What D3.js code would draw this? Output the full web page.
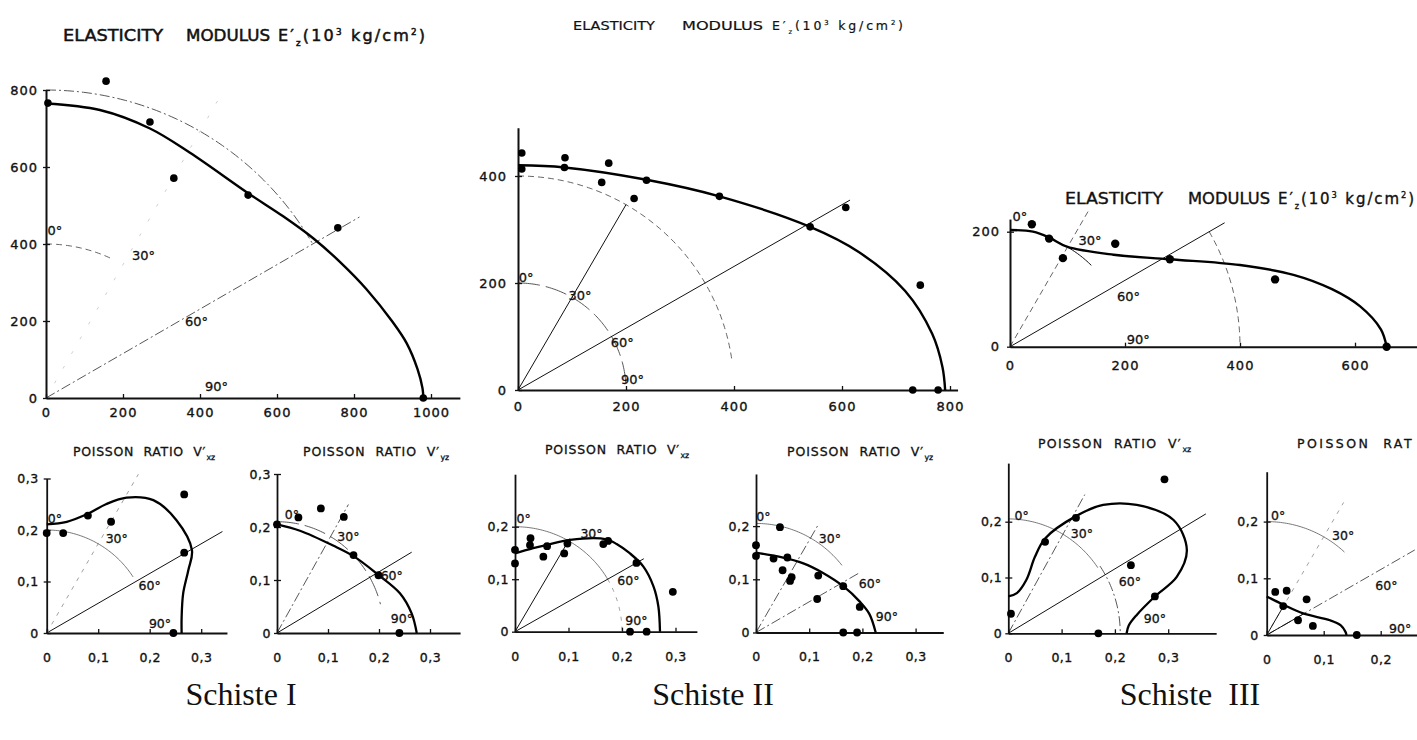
<!DOCTYPE html>
<html><head><meta charset="utf-8">
<script src="https://cdn.jsdelivr.net/npm/d3@7"></script>
<style>body{margin:0;background:#fff}svg{display:block}</style>
</head><body>
<script>
// ================= DATA =================
const angleNames = ['0°', '30°', '60°', '90°'];

// Schiste I — elasticity modulus E'z (10^3 kg/cm2)
const s1E_xTicks = [0, 200, 400, 600, 800, 1000];
const s1E_yTicks = [0, 200, 400, 600, 800];
const s1E_points = [[5,766],[156,823],[270,717],[332,571],[525,527],[758,442],[980,0]];
const s1E_curve  = [[0,765],[140,748],[270,700],[374,637],[525,532],[616,472],[694,415],[764,353],[833,282],[900,198],[937,142],[965,75],[978,25],[980,0]];
const s1E_rays   = [[30,900],[60,940]];
const s1E_arcs   = [[800,0,60],[400,0,25]];
const s1E_labels = [[23,436],[253,371],[391,198],[443,29]];

// Schiste II — elasticity modulus
const s2E_xTicks = [0, 200, 400, 600, 800];
const s2E_yTicks = [0, 200, 400];
const s2E_points = [[7,443],[7,413],[87,434],[86,416],[168,424],[155,388],[238,392],[215,358],[373,362],[541,305],[607,341],[745,196],[731,0],[778,0]];
const s2E_curve  = [[0,420],[86,416],[238,393],[373,362],[541,305],[631,258],[717,185],[767,105],[786,43],[791,0]];
const s2E_rays   = [[30,400],[60,710]];
const s2E_arcs   = [[200,0,88],[400,0,82]];
const s2E_labels = [[15,211],[115,177],[193,88],[212,19]];

// Schiste III — elasticity modulus
const s3E_xTicks = [0, 200, 400, 600];
const s3E_yTicks = [0, 200];
const s3E_points = [[38,213],[68,188],[92,154],[183,179],[278,152],[461,117],[655,0]];
const s3E_curve  = [[0,203],[40,200],[68,190],[99,174],[180,160],[278,152],[400,142],[493,125],[560,100],[609,70],[645,30],[655,0]];
const s3E_rays   = [[30,278],[60,431]];
const s3E_arcs   = [[400,60,90],[200,25,45]];
const s3E_labels = [[17,226],[139,185],[206,87],[223,12]];

// Schiste I — Poisson ratio v'xz
const s1Vxz_xTicks = [0, 0.1, 0.2, 0.3];
const s1Vxz_yTicks = [0, 0.1, 0.2, 0.3];
const s1Vxz_points = [[0,0.194],[0.032,0.194],[0.08,0.228],[0.125,0.216],[0.267,0.269],[0.267,0.156],[0.246,0]];
const s1Vxz_curve  = [[0,0.211],[0.039,0.216],[0.081,0.232],[0.115,0.25],[0.155,0.263],[0.207,0.258],[0.252,0.219],[0.282,0.161],[0.275,0.122],[0.265,0.077],[0.262,0.03],[0.262,0]];
const s1Vxz_rays   = [[30,0.356],[60,0.394]];
const s1Vxz_arcs   = [[0.2,0,57]];
const s1Vxz_labels = [[0.016,0.223],[0.136,0.184],[0.2,0.093],[0.22,0.019]];

// Schiste I — Poisson ratio v'yz
const s1Vyz_xTicks = [0, 0.1, 0.2, 0.3];
const s1Vyz_yTicks = [0, 0.1, 0.2, 0.3];
const s1Vyz_points = [[0,0.205],[0.042,0.218],[0.086,0.235],[0.131,0.219],[0.15,0.147],[0.199,0.109],[0.24,0]];
const s1Vyz_curve  = [[0,0.205],[0.045,0.193],[0.11,0.165],[0.15,0.145],[0.197,0.111],[0.241,0.075],[0.264,0.037],[0.274,0]];
const s1Vyz_rays   = [[30,0.28],[60,0.305]];
const s1Vyz_arcs   = [[0.21,0,75]];
const s1Vyz_labels = [[0.029,0.223],[0.14,0.182],[0.225,0.109],[0.245,0.028]];

// Schiste II — Poisson ratio v'xz
const s2Vxz_xTicks = [0, 0.1, 0.2, 0.3];
const s2Vxz_yTicks = [0, 0.1, 0.2];
const s2Vxz_points = [[0,0.156],[0,0.13],[0.029,0.178],[0.028,0.165],[0.06,0.163],[0.053,0.143],[0.098,0.168],[0.092,0.149],[0.165,0.167],[0.174,0.173],[0.227,0.131],[0.295,0.076],[0.215,0],[0.246,0]];
const s2Vxz_curve  = [[0,0.149],[0.034,0.159],[0.059,0.165],[0.103,0.175],[0.171,0.176],[0.19,0.167],[0.215,0.149],[0.24,0.124],[0.259,0.086],[0.268,0.048],[0.271,0]];
const s2Vxz_rays   = [[30,0.205],[60,0.278]];
const s2Vxz_arcs   = [[0.2,0,60],[0.2,60,90]];
const s2Vxz_labels = [[0.016,0.216],[0.143,0.187],[0.212,0.098],[0.227,0.022]];

// Schiste II — Poisson ratio v'yz
const s2Vyz_xTicks = [0, 0.1, 0.2, 0.3];
const s2Vyz_yTicks = [0, 0.1, 0.2];
const s2Vyz_points = [[0,0.164],[0,0.144],[0.045,0.198],[0.033,0.139],[0.059,0.141],[0.05,0.117],[0.067,0.104],[0.064,0.097],[0.117,0.107],[0.115,0.063],[0.164,0.087],[0.195,0.048],[0.164,0],[0.19,0]];
const s2Vyz_curve  = [[0,0.15],[0.045,0.142],[0.089,0.13],[0.126,0.112],[0.164,0.087],[0.195,0.058],[0.213,0.035],[0.225,0]];
const s2Vyz_rays   = [[30,0.234],[60,0.223]];
const s2Vyz_arcs   = [[0.205,0,52]];
const s2Vyz_labels = [[0.014,0.218],[0.139,0.177],[0.214,0.092],[0.246,0.03]];

// Schiste III — Poisson ratio v'xz
const s3Vxz_xTicks = [0, 0.1, 0.2, 0.3];
const s3Vxz_yTicks = [0, 0.1, 0.2];
const s3Vxz_points = [[0.005,0.035],[0.069,0.164],[0.127,0.207],[0.23,0.122],[0.275,0.066],[0.293,0.276],[0.169,0]];
const s3Vxz_curve  = [[0,0.066],[0.016,0.072],[0.034,0.096],[0.05,0.137],[0.069,0.17],[0.127,0.21],[0.178,0.23],[0.241,0.23],[0.31,0.203],[0.335,0.149],[0.316,0.101],[0.275,0.066],[0.241,0.033],[0.226,0.014],[0.222,0]];
const s3Vxz_rays   = [[30,0.287],[60,0.428]];
const s3Vxz_arcs   = [[0.205,0,55],[0.21,55,90]];
const s3Vxz_labels = [[0.025,0.212],[0.138,0.179],[0.228,0.092],[0.275,0.027]];

// Schiste III — Poisson ratio v'yz
const s3Vyz_xTicks = [0, 0.1, 0.2];
const s3Vyz_yTicks = [0, 0.1, 0.2];
const s3Vyz_points = [[0.015,0.076],[0.035,0.078],[0.029,0.051],[0.07,0.063],[0.055,0.026],[0.081,0.016],[0.158,0]];
const s3Vyz_curve  = [[0,0.068],[0.03,0.053],[0.064,0.038],[0.111,0.026],[0.13,0.017],[0.138,0.006],[0.14,0]];
const s3Vyz_rays   = [[30,0.27],[60,0.3],[30,0.061],[60,0.074]];
const s3Vyz_arcs   = [[0.2,0,43]];
const s3Vyz_labels = [[0.02,0.21],[0.134,0.176],[0.21,0.088],[0.234,0.012]];

const sampleNames = ['Schiste I', 'Schiste II', 'Schiste  III'];

// ================= STYLES / LAYOUT =================
const ST = {
  solid:   {stroke:'#111', w:1.0, dash:null},
  faintS:  {stroke:'#555', w:0.8, dash:null},
  dashdot: {stroke:'#444', w:0.9, dash:'10,3,2,3'},
  dash:    {stroke:'#555', w:0.9, dash:'6,4'},
  longdash:{stroke:'#444', w:0.9, dash:'22,6'},
  faintD:  {stroke:'#888', w:0.8, dash:'4,6'},
  ghost:   {stroke:'#c4c4c4', w:0.8, dash:'3,14'}
};
const fmtE = d3.format('d');
const fmtV = d => d === 0 ? '0' : d3.format('.1f')(d).replace('.', ',');

const svg = d3.select('body').append('svg').attr('width', 1417).attr('height', 740)
  .style('font-family', '"DejaVu Sans", sans-serif');

function drawPanel(p) {
  const x = d3.scaleLinear().domain([0, p.xMax]).range([p.ox, p.ox + p.xMax * p.kx]);
  const y = d3.scaleLinear().domain([0, p.yMax]).range([p.oy, p.oy - p.yMax * p.ky]);
  const g = svg.append('g');
  const line = d3.line().x(d => x(d[0])).y(d => y(d[1]));
  const apply = (sel, s) => sel.attr('fill', 'none').attr('stroke', s.stroke).attr('stroke-width', s.w)
    .attr('stroke-dasharray', s.dash);

  p.arcs.forEach((a, i) => {
    const [r, a0, a1] = a;
    const pts = d3.range(a0, a1 + 0.01, 1).map(t => [r * Math.sin(t * Math.PI / 180), r * Math.cos(t * Math.PI / 180)]);
    apply(g.append('path').attr('d', line(pts)), p.arcStyles[i]);
  });
  p.rays.forEach((rr, i) => {
    const [ang, len] = rr;
    const t = ang * Math.PI / 180;
    apply(g.append('path').attr('d', line([[0, 0], [len * Math.sin(t), len * Math.cos(t)]])), p.rayStyles[i]);
  });

  const xa = d3.axisBottom(x).tickValues(p.xTicks).tickFormat(p.fmt).tickSizeOuter(0).tickSizeInner(0).tickPadding(p.xPad);
  const ya = d3.axisLeft(y).tickValues(p.yTicks).tickFormat(p.fmt).tickSizeOuter(0).tickSizeInner(0).tickPadding(p.yPad);
  const gx = g.append('g').attr('transform', `translate(0,${p.oy})`).call(xa);
  const gy = g.append('g').attr('transform', `translate(${p.ox},0)`).call(ya);
  [gx, gy].forEach(ax => {
    ax.select('.domain').attr('stroke', '#111').attr('stroke-width', p.axisW);
    ax.selectAll('text').attr('font-size', p.fs).attr('fill', '#111')
      .attr('font-family', '"DejaVu Sans", sans-serif').attr('stroke', '#111').attr('stroke-width', 0.35)
      .attr('letter-spacing', p.ls);
  });
  gx.selectAll('.tick line').attr('y1', -4).attr('y2', 0).attr('stroke', '#111').attr('stroke-width', 1.3);
  gy.selectAll('.tick line').attr('x1', -3).attr('x2', 4).attr('stroke', '#111').attr('stroke-width', 1.3);

  g.append('path').attr('d', line.curve(d3.curveCatmullRom.alpha(0.5))(p.curve))
    .attr('fill', 'none').attr('stroke', '#000').attr('stroke-width', p.curveW).attr('stroke-linejoin', 'round');

  g.selectAll('circle.pt').data(p.points).join('circle').attr('class', 'pt')
    .attr('cx', d => x(d[0])).attr('cy', d => y(d[1])).attr('r', p.r).attr('fill', '#000');

  g.selectAll('text.ang').data(p.labels).join('text').attr('class', 'ang')
    .attr('x', d => x(d[0])).attr('y', d => y(d[1])).attr('text-anchor', 'middle')
    .attr('dominant-baseline', 'central').attr('font-size', p.angFs).attr('fill', '#111')
    .attr('stroke', '#111').attr('stroke-width', 0.3)
    .text((d, i) => angleNames[i]);
}

function fitText(g, x0, x1, yb, txt) {
  return g.append('text').attr('x', x0).attr('y', yb).attr('textLength', x1 - x0)
    .attr('lengthAdjust', 'spacingAndGlyphs').text(txt);
}
function eTitle(b, yb, fs, sw) {
  const g = svg.append('g').attr('fill', '#111').attr('stroke', '#111').attr('stroke-width', sw).attr('font-size', fs);
  fitText(g, b[0], b[1], yb, 'ELASTICITY');
  fitText(g, b[2], b[3], yb, 'MODULUS');
  const t = g.append('text').attr('x', b[4]).attr('y', yb).attr('textLength', b[5] - b[4]).attr('lengthAdjust', 'spacing');
  t.append('tspan').text('E′');
  t.append('tspan').attr('font-size', fs * 0.55).attr('dy', fs * 0.3).text('z');
  t.append('tspan').attr('dy', -fs * 0.3).text('(10');
  t.append('tspan').attr('font-size', fs * 0.55).attr('dy', -fs * 0.4).text('3');
  t.append('tspan').attr('dy', fs * 0.4).text(' kg/cm');
  t.append('tspan').attr('font-size', fs * 0.55).attr('dy', -fs * 0.4).text('2');
  t.append('tspan').attr('dy', fs * 0.4).text(')');
}
// Poisson titles: x0 = start, xEnd = end of "V′" (or of the cut word), sub = subscript or null
function vTitle(x0, xEnd, yb, sub, fs) {
  const g = svg.append('g').attr('fill', '#111').attr('stroke', '#111').attr('stroke-width', 0.3).attr('font-size', fs);
  const main = sub === null ? 'POISSON  RAT' : 'POISSON  RATIO  V′';
  const t = g.append('text').attr('x', x0).attr('y', yb).style('white-space', 'pre').text(main);
  const nat = t.node().getComputedTextLength();
  t.attr('letter-spacing', (xEnd - x0 - nat) / main.length);
  if (sub !== null) {
    const bb = t.node().getBBox();
    g.append('text').attr('x', bb.x + bb.width + 0.5).attr('y', yb + fs * 0.35)
      .attr('font-size', fs * 0.62).text(sub);
  }
}

const bigE = {fmt: fmtE, axisW: 2, fs: 13, ls: 1, angFs: 13, curveW: 2.4};
const smallV = {fmt: fmtV, axisW: 1.8, fs: 12.5, ls: 0.5, angFs: 12.5, curveW: 2.3, r: 3.9, xPad: 20};

drawPanel(Object.assign({}, bigE, {ox: 46, oy: 398, kx: 0.385, ky: 0.385, xMax: 1075, yMax: 800, xPad: 10, yPad: 8, r: 3.8,
  xTicks: s1E_xTicks, yTicks: s1E_yTicks, points: s1E_points, curve: s1E_curve, rays: s1E_rays, arcs: s1E_arcs, labels: s1E_labels,
  rayStyles: [ST.ghost, ST.dashdot], arcStyles: [ST.dashdot, ST.dash]}));
drawPanel(Object.assign({}, bigE, {ox: 518, oy: 390, kx: 0.54, ky: 0.535, xMax: 814, yMax: 490, xPad: 12, yPad: 11, r: 3.8,
  xTicks: s2E_xTicks, yTicks: s2E_yTicks, points: s2E_points, curve: s2E_curve, rays: s2E_rays, arcs: s2E_arcs, labels: s2E_labels,
  rayStyles: [ST.solid, ST.solid], arcStyles: [ST.longdash, ST.dash]}));
drawPanel(Object.assign({}, bigE, {ox: 1010, oy: 346.7, kx: 0.575, ky: 0.575, xMax: 710, yMax: 222, xPad: 14, yPad: 10, r: 4.2,
  xTicks: s3E_xTicks, yTicks: s3E_yTicks, points: s3E_points, curve: s3E_curve, rays: s3E_rays, arcs: s3E_arcs, labels: s3E_labels,
  rayStyles: [ST.dash, ST.solid], arcStyles: [ST.dash, ST.solid]}));

drawPanel(Object.assign({}, smallV, {ox: 46.7, oy: 633, kx: 515, ky: 515, xMax: 0.35, yMax: 0.3, yPad: 8,
  xTicks: s1Vxz_xTicks, yTicks: s1Vxz_yTicks, points: s1Vxz_points, curve: s1Vxz_curve, rays: s1Vxz_rays, arcs: s1Vxz_arcs, labels: s1Vxz_labels,
  rayStyles: [ST.faintD, ST.solid], arcStyles: [ST.faintS]}));
drawPanel(Object.assign({}, smallV, {ox: 277, oy: 633, kx: 510, ky: 530, xMax: 0.359, yMax: 0.3, yPad: 6,
  xTicks: s1Vyz_xTicks, yTicks: s1Vyz_yTicks, points: s1Vyz_points, curve: s1Vyz_curve, rays: s1Vyz_rays, arcs: s1Vyz_arcs, labels: s1Vyz_labels,
  rayStyles: [ST.dashdot, ST.solid], arcStyles: [ST.longdash]}));
drawPanel(Object.assign({}, smallV, {ox: 515, oy: 631.7, kx: 535, ky: 525, xMax: 0.34, yMax: 0.3, yPad: 6,
  xTicks: s2Vxz_xTicks, yTicks: s2Vxz_yTicks, points: s2Vxz_points, curve: s2Vxz_curve, rays: s2Vxz_rays, arcs: s2Vxz_arcs, labels: s2Vxz_labels,
  rayStyles: [ST.solid, ST.solid], arcStyles: [ST.faintS, ST.faintD]}));
drawPanel(Object.assign({}, smallV, {ox: 756, oy: 632.5, kx: 532, ky: 532, xMax: 0.352, yMax: 0.298, yPad: 6,
  xTicks: s2Vyz_xTicks, yTicks: s2Vyz_yTicks, points: s2Vyz_points, curve: s2Vyz_curve, rays: s2Vyz_rays, arcs: s2Vyz_arcs, labels: s2Vyz_labels,
  rayStyles: [ST.dashdot, ST.dashdot], arcStyles: [ST.faintS]}));
drawPanel(Object.assign({}, smallV, {ox: 1008.3, oy: 633.3, kx: 533, ky: 558, xMax: 0.39, yMax: 0.305, yPad: 6,
  xTicks: s3Vxz_xTicks, yTicks: s3Vxz_yTicks, points: s3Vxz_points, curve: s3Vxz_curve, rays: s3Vxz_rays, arcs: s3Vxz_arcs, labels: s3Vxz_labels,
  rayStyles: [ST.dashdot, ST.solid], arcStyles: [ST.faintS, ST.dashdot]}));
drawPanel(Object.assign({}, smallV, {ox: 1266.7, oy: 635, kx: 570, ky: 567, xMax: 0.264, yMax: 0.288, yPad: 8,
  xTicks: s3Vyz_xTicks, yTicks: s3Vyz_yTicks, points: s3Vyz_points, curve: s3Vyz_curve, rays: s3Vyz_rays, arcs: s3Vyz_arcs, labels: s3Vyz_labels,
  rayStyles: [ST.faintD, ST.dashdot, ST.solid, ST.solid], arcStyles: [ST.faintS]}));

// titles (word boxes in pixels)
eTitle([63, 163, 186, 270, 278, 425], 41, 16, 0.5);
eTitle([573, 655, 682, 763, 772, 903], 30, 12.5, 0.2);
eTitle([1065, 1163, 1188, 1270, 1278, 1414], 204, 15, 0.35);
vTitle(73, 206, 456, 'xz', 12.5);
vTitle(303, 440, 456, 'yz', 12.5);
vTitle(545, 680, 454, 'xz', 12.5);
vTitle(787, 924, 456, 'yz', 12.5);
vTitle(1038, 1182, 448, 'xz', 12.5);
vTitle(1297, 1414, 448, null, 12.5);

// sample names
svg.selectAll('text.sample').data(sampleNames).join('text').attr('class', 'sample')
  .attr('x', (d, i) => [241, 713, 1190][i]).attr('y', 705).attr('text-anchor', 'middle')
  .attr('font-family', '"Liberation Serif", "Times New Roman", serif').attr('font-size', 32)
  .style('white-space', 'pre').attr('fill', '#111').text(d => d);
</script></body></html>
